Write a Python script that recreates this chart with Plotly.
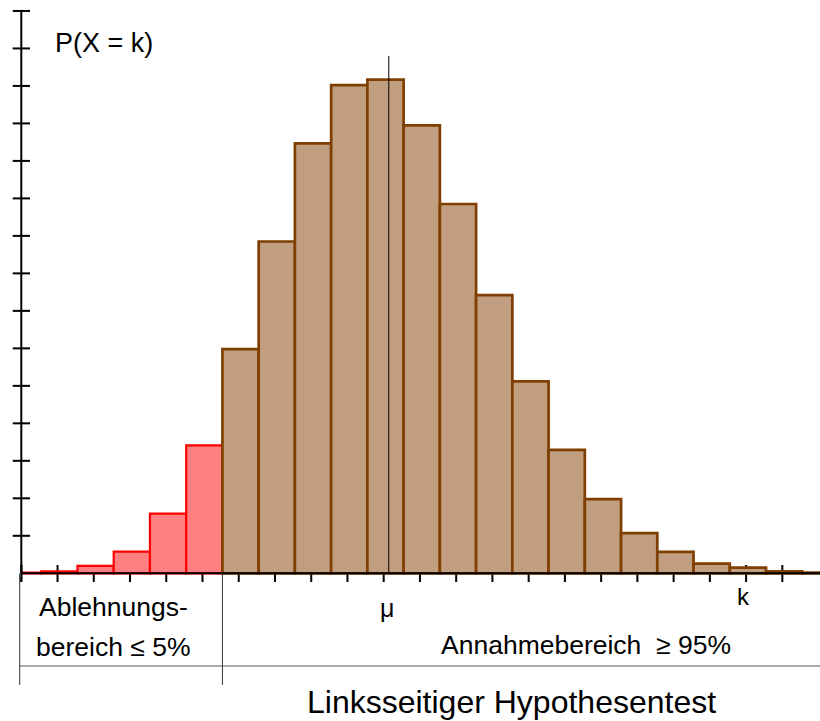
import plotly.graph_objects as go

# ---------------- data ----------------
k_values = list(range(23))
probabilities = [0.0002, 0.0005, 0.0020, 0.0058, 0.0159, 0.0341,
                 0.0598, 0.0885, 0.1147, 0.1302, 0.1317, 0.1195,
                 0.0985, 0.0742, 0.0512, 0.0329, 0.0198, 0.0107,
                 0.0057, 0.0026, 0.0015, 0.0005, 0.0002]
critical_k = 5          # last k of the rejection region
mu_position = 10.14
k_label_position = 20
x_tick_values = list(range(22))
y_tick_values = [round(0.01 * i, 2) for i in range(1, 16)]

label_reject_1 = "Ablehnungs-"
label_reject_2 = "bereich ≤ 5%"
label_accept = "Annahmebereich  ≥ 95%"
label_title = "Linksseitiger Hypothesentest"
label_y = "P(X = k)"

# ---------------- layout helpers (pixel calibration) ----------------
W, H = 820, 721
X0_PX, X_UNIT_PX = 21.3, 36.24      # pixel of x=0, pixels per unit
Y0_PX, Y_UNIT_PX = 573.3, 3749.0    # pixel of y=0, pixels per probability unit


def px_x(p):
    return (p - X0_PX) / X_UNIT_PX


def px_y(p):
    return (Y0_PX - p) / Y_UNIT_PX


x_range = [px_x(0), px_x(W)]
y_range = [px_y(H), px_y(0)]

FONT = "Liberation Sans, Arial, sans-serif"
BROWN_FILL = "#C19E80"
BROWN_LINE = "#7F3F00"
RED_FILL = "#FF8080"
RED_LINE = "#FF0000"

red_k = [k for k in k_values if k <= critical_k]
red_p = [p for k, p in zip(k_values, probabilities) if k <= critical_k]
brown_k = [k for k in k_values if k > critical_k]
brown_p = [p for k, p in zip(k_values, probabilities) if k > critical_k]

BAR_OFFSET = -0.45
BAR_WIDTH = 1.0

fig = go.Figure()
fig.add_trace(go.Bar(x=red_k, y=red_p, offset=BAR_OFFSET, width=BAR_WIDTH,
                     marker=dict(color=RED_FILL, line=dict(color=RED_LINE, width=2.2)),
                     hoverinfo="skip", showlegend=False))
fig.add_trace(go.Bar(x=brown_k, y=brown_p, offset=BAR_OFFSET, width=BAR_WIDTH,
                     marker=dict(color=BROWN_FILL, line=dict(color=BROWN_LINE, width=2.7)),
                     hoverinfo="skip", showlegend=False))

shapes = []
# x ticks (crossing the axis, behind the bars)
for t in x_tick_values:
    shapes.append(dict(type="line", xref="x", yref="y", layer="below",
                       x0=t, x1=t, y0=px_y(565), y1=px_y(582),
                       line=dict(color="black", width=2)))
# cover the part of the first bar left of the y axis
shapes.append(dict(type="rect", xref="x", yref="y", layer="above",
                   x0=x_range[0], x1=0, y0=px_y(Y0_PX + 4), y1=0.002,
                   fillcolor="white", line=dict(width=0)))
# x axis line
shapes.append(dict(type="line", xref="x", yref="y", layer="above",
                   x0=0, x1=x_range[1], y0=0, y1=0,
                   line=dict(color="black", width=2)))
# y axis line
shapes.append(dict(type="line", xref="x", yref="y", layer="above",
                   x0=0, x1=0, y0=0, y1=y_tick_values[-1],
                   line=dict(color="black", width=2)))
# tick at x = 0 (re-drawn over the cover)
shapes.append(dict(type="line", xref="x", yref="y", layer="above",
                   x0=0, x1=0, y0=px_y(565), y1=px_y(582),
                   line=dict(color="black", width=2)))
# y ticks
for v in y_tick_values:
    shapes.append(dict(type="line", xref="x", yref="y", layer="above",
                       x0=px_x(12.7), x1=px_x(30), y0=v, y1=v,
                       line=dict(color="black", width=2)))
# mu line
shapes.append(dict(type="line", xref="x", yref="y", layer="above",
                   x0=mu_position, x1=mu_position, y0=0, y1=px_y(56),
                   line=dict(color="black", width=1)))
# table lines below the axis
boundary_x = critical_k + 1 + BAR_OFFSET
shapes.append(dict(type="line", xref="x", yref="y", layer="above",
                   x0=boundary_x, x1=boundary_x, y0=0, y1=px_y(685),
                   line=dict(color="#333333", width=1)))
shapes.append(dict(type="line", xref="x", yref="y", layer="above",
                   x0=px_x(19.7), x1=px_x(19.7), y0=0, y1=px_y(685),
                   line=dict(color="#333333", width=1)))
shapes.append(dict(type="line", xref="x", yref="y", layer="above",
                   x0=px_x(19.7), x1=x_range[1], y0=px_y(666), y1=px_y(666),
                   line=dict(color="#555555", width=1)))

annotations = []


def add_text(text, x, y, size, xref="x"):
    annotations.append(dict(text=text, x=x, y=y, xref=xref, yref="y",
                            showarrow=False, xanchor="center", yanchor="middle",
                            font=dict(family=FONT, size=size, color="black")))


add_text(label_y, px_x(104), px_y(43), 27)
add_text(label_reject_1, px_x(113), px_y(607), 26.5)
add_text(label_reject_2, px_x(113), px_y(647), 26.5)
add_text(label_accept, px_x(586), px_y(645), 26.5)
add_text("μ", mu_position - 0.05, px_y(608), 25)
add_text("k", k_label_position - 0.08, px_y(596), 24)
add_text(label_title, px_x(511), px_y(702), 32)

fig.update_layout(
    width=W, height=H,
    margin=dict(l=0, r=0, t=0, b=0),
    paper_bgcolor="white", plot_bgcolor="white",
    barmode="overlay",
    xaxis=dict(range=x_range, visible=False, fixedrange=True),
    yaxis=dict(range=y_range, visible=False, fixedrange=True),
    shapes=shapes,
    annotations=annotations,
    showlegend=False,
)

fig.write_html(
    "out.html",
    config=dict(displayModeBar=False),
    post_script="document.body.style.margin='0';document.body.style.overflow='hidden';",
)
